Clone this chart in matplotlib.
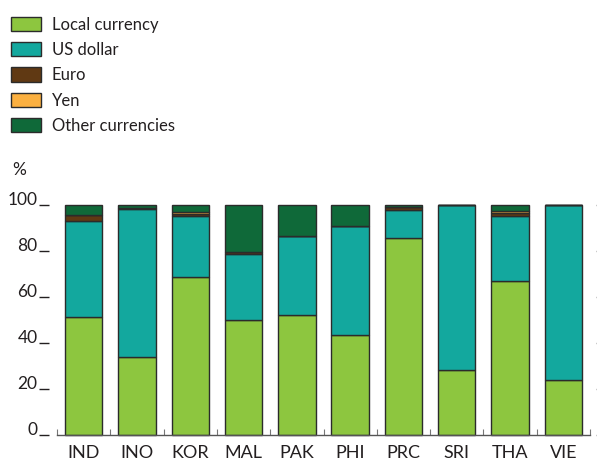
import matplotlib
matplotlib.use("Agg")
import matplotlib.pyplot as plt
import numpy as np

categories = ["IND", "INO", "KOR", "MAL", "PAK", "PHI", "PRC", "SRI", "THA", "VIE"]
local = [51.4, 34.0, 68.8, 50.1, 52.1, 43.4, 85.9, 28.3, 67.2, 24.0]
usd = [41.8, 64.5, 26.4, 28.9, 34.7, 47.6, 12.1, 71.7, 28.2, 76.0]
euro = [2.7, 0.3, 0.8, 0.8, 0.0, 0.0, 1.2, 0.0, 1.4, 0.0]
yen = [0.0, 0.0, 1.2, 0.0, 0.0, 0.0, 0.0, 0.0, 0.6, 0.0]
other = [4.1, 1.2, 2.8, 20.2, 13.2, 9.0, 0.8, 0.0, 2.6, 0.0]
series_names = ["Local currency", "US dollar", "Euro", "Yen", "Other currencies"]
colors = ["#8DC63F", "#13A89E", "#603913", "#FBB040", "#0F6939"]
yticks = [0, 20, 40, 60, 80, 100]

plt.rcParams['font.family'] = ['Lato', 'DejaVu Sans']
txt = "#231F20"

fig = plt.figure(figsize=(5.97, 4.63), dpi=100)
ax = fig.add_axes([57/597, 28/463, 533/597, 229.7/463])

x = np.arange(len(categories))
bottom = np.zeros(len(categories))
handles = []
for name, vals, col in zip(series_names, [local, usd, euro, yen, other], colors):
    vals = np.array(vals)
    b = ax.bar(x, vals, 0.7, bottom=bottom, color=col, edgecolor="#2b2b2b",
               linewidth=1.0, label=name, clip_on=False, zorder=2)
    handles.append(b)
    bottom += vals

ax.set_xlim(-0.5, len(categories) - 0.5)
ax.set_ylim(0, 100)

for s in ["top", "right", "left"]:
    ax.spines[s].set_visible(False)
ax.spines["left"].set_position(("outward", 6))
ax.spines["bottom"].set_color("#555555")
ax.spines["bottom"].set_linewidth(1.0)

ax.set_xticks(x)
ax.set_xticklabels(categories, fontsize=13, color=txt)
ax.tick_params(axis="x", which="major", length=0, pad=7.5)
ax.set_xticks(np.arange(-0.5, len(categories), 1.0), minor=True)
ax.tick_params(axis="x", which="minor", direction="in", length=4, width=0.8, color="#777777")

ax.set_yticks(yticks)
ax.set_yticklabels([str(v) for v in yticks], fontsize=12.5, color=txt)
ax.tick_params(axis="y", which="major", direction="out", length=7, width=1.0, color=txt, pad=1)
for tl in ax.get_yticklabels():
    tl.set_verticalalignment("baseline")

ax2 = ax.twinx()
ax2.set_ylim(0, 100)
ax2.set_yticks(yticks)
ax2.set_yticklabels([])
for s in ax2.spines.values():
    s.set_visible(False)
ax2.spines["right"].set_position(("outward", 4))
ax2.tick_params(axis="y", direction="out", length=2, width=1.0, color="#999999")

fig.text(12/597, 1 - 170/463, "%", fontsize=12.5, color=txt, va="center", ha="left")

leg = fig.legend(handles=handles, labels=series_names, loc="upper left",
                 bbox_to_anchor=(4/597, 1 - 10/463), frameon=False, fontsize=12,
                 handlelength=1.8, handleheight=0.95, labelspacing=0.56,
                 handletextpad=0.65, borderaxespad=0)
for t in leg.get_texts():
    t.set_color(txt)

fig.savefig("out.png", dpi=100)
